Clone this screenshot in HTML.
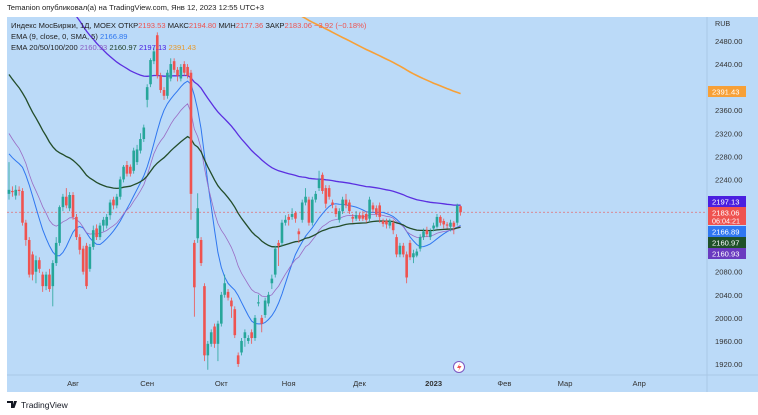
<!DOCTYPE html>
<html><head><meta charset="utf-8"><style>
body{margin:0;background:#fff;width:758px;height:415px;overflow:hidden;font-family:"Liberation Sans","Noto Sans CJK SC",sans-serif}
svg{position:absolute;left:0;top:0}
</style></head><body>
<svg id="c" width="758" height="415" viewBox="0 0 758 415"></svg>
<script>
const OPEN=[2215,2220,2212,2222,2220,2165,2135,2110,2080,2100,2075,2055,2075,2055,2095,2130,2192,2210,2190,2213,2175,2140,2120,2125,2085,2123,2155,2140,2160,2160,2178,2205,2195,2210,2240,2265,2262,2255,2270,2290,2310,2378,2405,2445,2490,2420,2395,2385,2415,2445,2430,2415,2440,2435,2425,2130,2138,2135,2055,1935,1955,1985,1955,1990,2040,2045,2030,2015,1935,1940,1965,1960,1975,1965,2025,2000,2005,2025,2060,2075,2130,2130,2165,2175,2175,2182,2150,2170,2200,2205,2165,2205,2225,2248,2225,2225,2200,2190,2170,2185,2205,2200,2175,2172,2178,2178,2180,2172,2195,2190,2195,2168,2168,2160,2165,2140,2110,2125,2110,2130,2105,2108,2120,2140,2152,2140,2155,2158,2175,2168,2162,2158,2165,2165,2193.53];
const CLOSE=[2222,2218,2222,2220,2165,2135,2075,2075,2100,2085,2055,2075,2050,2095,2130,2192,2210,2195,2213,2175,2140,2118,2080,2055,2123,2152,2140,2160,2170,2175,2200,2195,2210,2240,2262,2250,2250,2290,2292,2310,2330,2400,2447,2462,2420,2395,2385,2425,2440,2430,2420,2435,2425,2420,2215,2053,2190,2095,1935,1955,1975,1955,1990,2040,2060,2035,2020,1970,1920,1960,1975,1965,1965,2000,2027,1990,2030,2040,2068,2120,2125,2165,2170,2170,2180,2172,2145,2200,2210,2165,2205,2215,2240,2220,2198,2210,2196,2180,2185,2205,2195,2185,2172,2178,2172,2172,2170,2205,2188,2180,2175,2163,2162,2168,2152,2110,2125,2110,2070,2105,2112,2115,2140,2150,2145,2150,2160,2175,2165,2162,2160,2165,2158,2195,2183.06];
const HIGH=[2270,2228,2230,2228,2225,2170,2140,2115,2108,2105,2080,2080,2085,2100,2140,2195,2215,2225,2218,2218,2180,2145,2125,2130,2128,2160,2162,2165,2175,2180,2205,2210,2215,2245,2265,2272,2266,2295,2300,2320,2335,2405,2450,2470,2495,2425,2400,2430,2450,2450,2435,2440,2445,2440,2430,2135,2216,2140,2060,1960,1980,1990,1995,2045,2075,2050,2035,2020,1940,1965,1980,1970,1980,2005,2040,2005,2035,2045,2075,2125,2135,2170,2178,2180,2190,2185,2155,2205,2225,2210,2210,2220,2255,2252,2230,2230,2205,2195,2190,2210,2215,2205,2180,2185,2182,2185,2185,2210,2200,2195,2200,2172,2172,2172,2170,2145,2130,2130,2115,2135,2118,2120,2145,2155,2158,2155,2165,2180,2178,2172,2166,2170,2168,2198,2194.8];
const LOW=[2205,2210,2205,2212,2160,2125,2070,2065,2060,2078,2045,2048,2045,2020,2090,2125,2185,2190,2185,2170,2135,2110,2075,2050,2080,2118,2135,2135,2150,2155,2170,2188,2190,2205,2235,2245,2245,2250,2265,2285,2305,2365,2400,2440,2415,2390,2378,2380,2410,2425,2410,2410,2420,2415,2170,2002,2130,2090,1925,1910,1950,1948,1925,1985,2035,2030,2000,1965,1915,1935,1950,1955,1955,1960,2020,1975,2000,2020,2050,2070,2090,2125,2160,2160,2170,2165,2130,2165,2195,2160,2160,2200,2220,2215,2190,2205,2190,2175,2165,2180,2190,2180,2165,2168,2168,2168,2165,2168,2182,2175,2165,2158,2155,2155,2145,2105,2105,2105,2060,2100,2095,2105,2115,2135,2140,2135,2150,2155,2160,2155,2155,2150,2145,2160,2177.36];
const EMA_PERIODS=[9,20,50,100,200];
const EMA_SEEDS=[2300,2330,2430,2720,3040];
const PRICE_TICKS=[2480,2440,2360,2320,2280,2240,2080,2040,2000,1960,1920];
const MONTH_LABELS=["Авг","Сен","Окт","Ноя","Дек","2023","Фев","Мар","Апр"];
const MONTH_INDEX=[19,41,63,83,104,126,147,165,187];

const NS="http://www.w3.org/2000/svg";
const svg=document.getElementById('c');
const L=7,R=707,T=17,B=375,X0=9,STEP=3.37;
const yOf=p=>41+(2480-p)*0.5768;
const xOf=i=>X0+i*STEP;
function mk(tag,attrs,parent){const e=document.createElementNS(NS,tag);for(const k in attrs)e.setAttribute(k,attrs[k]);(parent||svg).appendChild(e);return e;}

const bg=mk('rect',{x:L,y:T,width:758-L,height:392-T,fill:'#bbdaf8'});


mk('line',{x1:R,y1:T,x2:R,y2:392,stroke:'#a9c8e6','stroke-width':1});
mk('line',{x1:L,y1:B,x2:758,y2:B,stroke:'#a9c8e6','stroke-width':1});
const defs=mk('defs',{});
const cp=mk('clipPath',{id:'plot'},defs);
mk('rect',{x:L,y:T,width:R-L,height:B-T},cp);
const plot=mk('g',{'clip-path':'url(#plot)'});



const hd=mk('text',{x:7,y:10,'font-size':'7.6',fill:'#222'});
hd.textContent='Temanion опубликовал(а) на TradingView.com, Янв 12, 2023 12:55 UTC+3';



const lastY=yOf(CLOSE[CLOSE.length-1]);
mk('line',{x1:L,y1:lastY,x2:R,y2:lastY,stroke:'#ef5350','stroke-width':0.8,'stroke-dasharray':'2,2',opacity:0.8},plot);

const EMA_COLORS=['#2f77f0','#9a6cc4','#234d2a','#5b2fe0','#f7a037'];
const EMA_WIDTH=[1,0.8,1.3,1.3,1.6];
const emaVals=EMA_PERIODS.map((n,k)=>{let e=EMA_SEEDS[k];const a=2/(n+1);return CLOSE.map(c=>(e=e+a*(c-e)));});
const sm=emaVals[0].map((v,i)=>{const s=emaVals[0].slice(Math.max(0,i-4),i+1);return s.reduce((a,b)=>a+b,0)/s.length;});
const lines=[sm,emaVals[1],emaVals[2],emaVals[3],emaVals[4]];
const lineNames=['ema9-sma5-line','ema20-line','ema50-line','ema100-line','ema200-line'];
lines.forEach((arr,k)=>{
  const d=arr.map((v,i)=>(i?'L':'M')+xOf(i).toFixed(1)+' '+yOf(v).toFixed(1)).join(' ');
  const p=mk('path',{d,fill:'none',stroke:EMA_COLORS[k],'stroke-width':EMA_WIDTH[k]},plot);
  
  
});

OPEN.forEach((o,i)=>{
  const c=CLOSE[i],up=c>=o,col=up?'#26a69a':'#ef5350',x=xOf(i);
  const g=mk('g',{},plot);
  
  
  mk('line',{x1:x,y1:yOf(HIGH[i]),x2:x,y2:yOf(LOW[i]),stroke:col,'stroke-width':0.8},g);
  const y1=yOf(Math.max(o,c)),y2=yOf(Math.min(o,c));
  mk('rect',{x:x-1.3,y:y1,width:2.6,height:Math.max(0.8,y2-y1),fill:col},g);
});

function leg(y,parts,name){const t=mk('text',{x:11,y,'font-size':'7.6',fill:'#222'});
 parts.forEach(([s,c])=>{const ts=mk('tspan',{fill:c},t);ts.textContent=s;});}
leg(28,[['Индекс МосБиржи, 1Д, MOEX  ОТКР','#222'],['2193.53','#ef5350'],['  МАКС','#222'],['2194.80','#ef5350'],['  МИН','#222'],['2177.36','#ef5350'],['  ЗАКР','#222'],['2183.06','#ef5350'],['  −3.92 (−0.18%)','#ef5350']],'legend-symbol');
leg(39,[['EMA (9, close, 0, SMA, 5)  ','#222'],['2166.89','#2f77f0']],'legend-ema9');
leg(50,[['EMA 20/50/100/200  ','#222'],['2160.93','#8a5cc0'],['  2160.97','#1d3d22'],['  2197.13','#4a1fe0'],['  2391.43','#e89a2c']],'legend-ema-group');

const rub=mk('text',{x:715,y:26,'font-size':'7.2',fill:'#333'});rub.textContent='RUB';

PRICE_TICKS.forEach(p=>{const t=mk('text',{x:715,y:yOf(p)+3,'font-size':'7.6',fill:'#333'});t.textContent=p.toFixed(2);
 });
function tag(val,col,name,top,h,extra){
 const g=mk('g',{});
 mk('rect',{x:708,y:top,width:38,height:h,fill:col},g);
 const t=mk('text',{x:712,y:top+8.3,'font-size':'7.6',fill:'#fff'},g);t.textContent=val.toFixed(2);
 if(extra){const t2=mk('text',{x:712,y:top+16.3,'font-size':'7.2',fill:'#fff'},g);t2.textContent=extra;}}
tag(2391.43,'#f7a037','ema200-tag',86,11);
tag(2197.13,'#4a1fe0','ema100-tag',196,11);
tag(2183.06,'#ef5350','last-price-tag',207,18,'06:04:21');
tag(2166.89,'#2f77f0','ema9-tag',226,11);
tag(2160.97,'#1f5128','ema50-tag',237,11);
tag(2160.93,'#6a3bc0','ema20-tag',248,11);

MONTH_LABELS.forEach((m,k)=>{const t=mk('text',{x:xOf(MONTH_INDEX[k]),y:386,'font-size':'7.6',fill:'#333','text-anchor':'middle','font-weight':m==='2023'?'bold':'normal'});t.textContent=m;
 });

const li=mk('g',{});
mk('circle',{cx:459,cy:367,r:5.5,fill:'#fff',stroke:'#7e57c2','stroke-width':1},li);
mk('path',{d:'M460 363 L457 368 L459.5 368 L458 371.5 L461.5 366 L459 366 Z',fill:'#ef5350'},li);

const lgo=mk('g',{});
mk('path',{d:'M7 401 h6 v7 h-2 v-5 h-4 Z M14 401 h3 l-2.5 7 h-2.5 Z',fill:'#131722'},lgo);
const lt=mk('text',{x:21,y:408,'font-size':'8.5',fill:'#131722'},lgo);lt.textContent='TradingView';
</script>
</body></html>
